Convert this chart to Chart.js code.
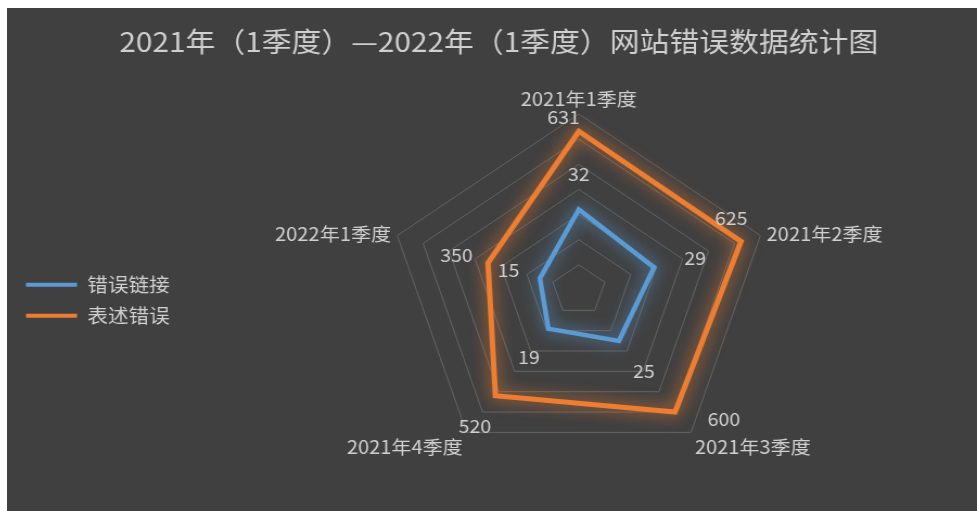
<!DOCTYPE html>
<html>
<head>
<meta charset="utf-8">
<script src="https://cdn.jsdelivr.net/npm/chart.js@4.4.1/dist/chart.umd.min.js"></script>
<style>
  html, body { margin: 0; padding: 0; background: #ffffff; }
  #wrap { position: absolute; left: 7px; top: 8px; width: 970px; height: 503px; background: #404040; }
</style>
</head>
<body>
<div id="wrap">
  <!-- drawn at 894px and stretched to 970px, like the original picture -->
  <canvas id="chart" width="894" height="503" style="width:970px;height:503px"></canvas>
</div>
<script>
const chartTitle = "2021年（1季度）—2022年（1季度）网站错误数据统计图";
const quarters = ["2021年1季度", "2021年2季度", "2021年3季度", "2021年4季度", "2022年1季度"];
const seriesNames = ["错误链接", "表述错误"];
const errorLinks = [32, 29, 25, 19, 15];
const wrongTexts = [631, 625, 600, 520, 350];

const blue = "#5B9BD5";
const orange = "#ED7D31";
const textColor = "#d0d0d0";
const fontFamily = "'Noto Sans CJK SC', 'Noto Sans', sans-serif";

// soft glow round each line
const glowPlugin = {
  id: "glow",
  beforeDatasetDraw(chart, args) {
    const ds = chart.data.datasets[args.index];
    chart.ctx.save();
    chart.ctx.shadowColor = ds.borderColor;
    chart.ctx.shadowBlur = 16;
  },
  afterDatasetDraw(chart) {
    chart.ctx.restore();
  }
};

// category labels and value labels
const textPlugin = {
  id: "radarText",
  afterDatasetsDraw(chart, args, opts) {
    const ctx = chart.ctx;
    const scale = chart.scales.r;
    ctx.save();
    ctx.fillStyle = textColor;

    ctx.font = opts.pointFont;
    quarters.forEach((q, i) => {
      const p = scale.getPointPosition(i, scale.drawingArea + opts.pointPad);
      const dx = p.x - scale.xCenter;
      const dy = p.y - scale.yCenter;
      ctx.textAlign = Math.abs(dx) < 1 ? "center" : dx > 0 ? "left" : "right";
      ctx.textBaseline = Math.abs(dx) < 1 ? "bottom" : dy > 0 ? "top" : "middle";
      ctx.fillText(q, p.x, p.y);
    });

    ctx.font = opts.valueFont;
    ctx.textAlign = "center";
    ctx.textBaseline = "middle";
    chart.data.datasets.forEach((ds, di) => {
      chart.getDatasetMeta(di).data.forEach((pt, i) => {
        const off = opts.offsets[di][i];
        ctx.fillText(ds.data[i], pt.x + off[0], pt.y + off[1]);
      });
    });
    ctx.restore();
  }
};

const data = {
  labels: quarters,
  datasets: [
    {
      label: seriesNames[0],
      data: errorLinks,
      rAxisID: "r2",
      borderColor: blue,
      backgroundColor: blue,
      borderWidth: 4.5,
      pointRadius: 0,
      fill: false,
      borderJoinStyle: "miter"
    },
    {
      label: seriesNames[1],
      data: wrongTexts,
      rAxisID: "r",
      borderColor: orange,
      backgroundColor: orange,
      borderWidth: 5,
      pointRadius: 0,
      fill: false,
      borderJoinStyle: "miter"
    }
  ]
};

const options = {
  responsive: false,
  animation: false,
  layout: {
    padding: { left: 5.5, right: -7, top: 0, bottom: 44 }
  },
  plugins: {
    title: {
      display: true,
      text: chartTitle,
      color: textColor,
      font: { family: fontFamily, size: 27.5, weight: "normal", lineHeight: 1.2 },
      padding: { top: 17, bottom: 55.4 }
    },
    legend: {
      position: "left",
      fullSize: false,
      title: { display: true, text: "", font: { size: 16, lineHeight: 1.25 }, padding: 0 },
      labels: {
        color: textColor,
        font: { family: fontFamily, size: 19 },
        boxWidth: 47,
        boxHeight: 4,
        padding: 12,
        generateLabels(chart) {
          const items = Chart.defaults.plugins.legend.labels.generateLabels(chart);
          items.forEach((it) => {
            it.lineWidth = 0;
            it.fillStyle = it.strokeStyle;
          });
          return items;
        }
      }
    },
    tooltip: { enabled: false },
    radarText: {
      pointFont: "18.5px " + fontFamily,
      valueFont: "18px " + fontFamily,
      pointPad: 6,
      offsets: [
        [[0, -35], [38, -9], [23, 30], [-18, 29], [-29, -8]],
        [[-14, -14], [-9, -23], [45, 7], [-19, 30], [-29, -8]]
      ]
    }
  },
  scales: {
    r: {
      min: 0,
      max: 700,
      ticks: { stepSize: 100, display: false },
      grid: { color: "#646464", lineWidth: 1 },
      angleLines: { display: false },
      pointLabels: { display: false }
    },
    r2: {
      type: "radialLinear",
      min: 0,
      max: 70,
      ticks: { stepSize: 10, display: false },
      grid: { display: false },
      angleLines: { display: false },
      pointLabels: { display: false }
    }
  }
};

new Chart(document.getElementById("chart").getContext("2d"), {
  type: "radar",
  data,
  options,
  plugins: [glowPlugin, textPlugin]
});
</script>
</body>
</html>
